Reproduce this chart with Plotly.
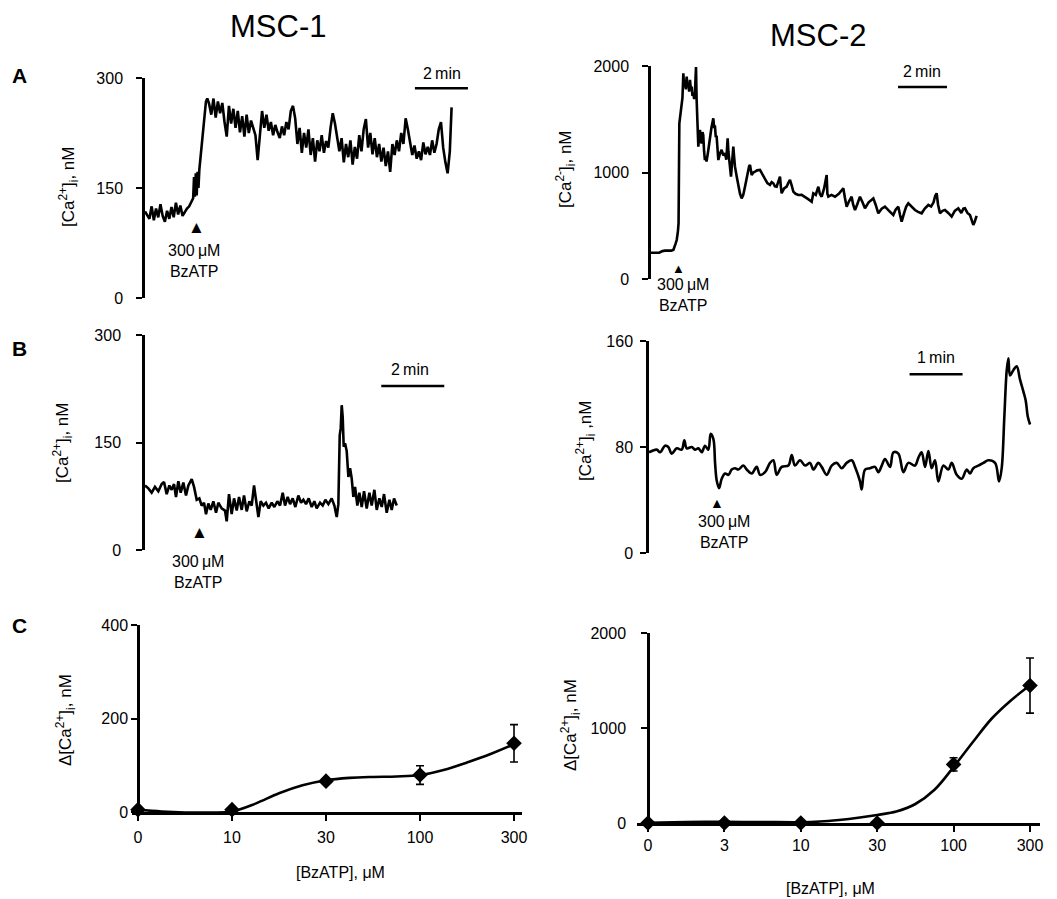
import plotly.graph_objects as go

W, H = 1057, 899
FONT = "Liberation Sans, Arial, sans-serif"

# ---------------- data ----------------
# Panel A, MSC-1: time (s), [Ca2+]i (nM)
a1_trace = [
    (0, 118), (5, 112), (10, 108), (15, 125), (20, 106), (25, 122), (30, 110), (35, 128), (40, 112),
    (45, 104), (50, 119), (55, 108), (60, 124), (65, 110), (70, 130), (75, 114), (80, 126), (85, 112),
    (90, 118), (95, 122), (100, 125), (105, 132), (109, 136), (111, 165), (113, 138), (115, 170),
    (117, 140), (119, 172), (121, 150), (123, 175), (126, 195), (129, 210), (132, 235), (135, 252),
    (138, 268), (141, 272), (145, 265), (150, 250), (155, 272), (160, 246), (165, 268), (170, 252),
    (175, 266), (180, 240), (185, 220), (190, 262), (195, 238), (200, 258), (205, 232), (210, 255),
    (215, 226), (220, 248), (225, 220), (230, 250), (235, 225), (240, 242), (245, 230), (250, 222),
    (255, 188), (260, 228), (265, 255), (270, 232), (275, 250), (280, 228), (285, 240), (290, 222),
    (295, 236), (300, 226), (305, 218), (310, 234), (315, 222), (320, 240), (325, 230), (330, 255),
    (335, 262), (340, 245), (345, 210), (350, 232), (355, 198), (360, 225), (365, 205), (370, 230),
    (375, 195), (380, 218), (385, 186), (390, 215), (395, 200), (400, 222), (405, 198), (410, 214),
    (415, 205), (420, 232), (425, 252), (430, 238), (435, 220), (440, 200), (445, 218), (450, 185),
    (455, 210), (460, 192), (465, 215), (470, 182), (475, 206), (480, 190), (485, 222), (490, 200),
    (495, 230), (500, 244), (505, 205), (510, 225), (515, 196), (520, 218), (525, 192), (530, 210),
    (535, 186), (540, 205), (545, 180), (550, 200), (555, 172), (560, 210), (565, 195), (570, 215),
    (575, 200), (580, 225), (585, 210), (590, 245), (595, 230), (600, 210), (605, 195), (610, 208),
    (615, 190), (620, 200), (625, 188), (630, 212), (635, 196), (640, 206), (645, 195), (650, 215),
    (655, 198), (660, 210), (665, 230), (670, 240), (675, 205), (680, 185), (685, 170), (690, 200),
    (694, 260),
]

# Panel A, MSC-2
a2_trace = [
    (0, 247), (20, 247), (28, 262), (34, 266), (50, 266), (55, 275), (60, 330), (63, 366), (66, 450),
    (67.5, 523), (69.4, 1462), (71, 1509), (73, 1540), (75, 1587), (77, 1700), (79.2, 1931), (81, 1800),
    (83.3, 1869), (85.5, 1780), (87.3, 1900), (89.5, 1800), (91.4, 1837), (93.5, 1760), (95.5, 1870),
    (97.5, 1790), (99.6, 1806), (101.5, 1720), (103.7, 1743), (105.7, 1690), (107.7, 1760),
    (110.2, 1990), (111.8, 1681), (114, 1500), (115.9, 1243), (118, 1350), (120, 1400), (122, 1300),
    (124, 1274), (126, 1380), (128, 1350), (130, 1200), (132, 1117), (134, 1150), (136, 1102),
    (140, 1200), (144.5, 1337), (148, 1420), (152.6, 1509), (154.5, 1430), (156.7, 1431),
    (158.5, 1340), (160.8, 1337), (163, 1200), (164.9, 1117), (169, 1180), (173, 1212), (177, 1160),
    (181.2, 1180), (184.5, 1120), (187.7, 1321), (189.5, 1200), (191, 1117), (193.5, 1050),
    (195.9, 961), (199, 1100), (201.6, 1243), (203.5, 1150), (205.7, 1055), (210, 960), (213.9, 867),
    (218, 800), (222, 757), (226, 790), (230.2, 867), (234, 960), (238.4, 1024), (240.5, 1060),
    (242.5, 1071), (246.5, 977), (250.5, 1000), (254.7, 1008), (260, 1020), (266.9, 1024), (273, 980),
    (279.2, 930), (285, 900), (291.4, 883), (295.5, 910), (299.6, 899), (303.5, 870), (307.7, 867),
    (311.5, 920), (315.9, 961), (318, 870), (320, 805), (326, 850), (332.2, 867), (336, 900),
    (340.4, 930), (344.5, 880), (348.5, 820), (354, 800), (360.8, 789), (369, 790), (377.1, 773),
    (385, 750), (393.5, 726), (397.5, 805), (403.5, 790), (409.8, 867), (413.5, 800), (418, 773),
    (424, 850), (430.2, 977), (432, 800), (434.3, 773), (442, 790), (450.6, 773), (460, 800),
    (471, 852), (475, 760), (479.2, 679), (485, 730), (491.4, 773), (495, 700), (499.6, 648),
    (505, 700), (511.8, 773), (518, 720), (524, 664), (533, 720), (544.5, 757), (550, 700),
    (556.7, 617), (565, 660), (573, 679), (583, 640), (593.4, 601), (599, 650), (605.7, 679),
    (610, 600), (613.9, 539), (620, 620), (625, 680), (630.2, 711), (638, 680), (646.5, 648),
    (654, 630), (662.8, 617), (670, 660), (679.2, 695), (686, 680), (692, 720), (696, 780),
    (699.6, 805), (703, 700), (707.7, 617), (714, 640), (720, 648), (728, 620), (736.3, 586),
    (744, 640), (752.6, 664), (760, 620), (765, 660), (769, 664), (775, 620), (781.2, 601),
    (785, 560), (789.4, 508), (793, 540), (797.5, 592),
]

# Panel B, MSC-1
b1_trace = [
    (0, 90), (6.4, 86), (12.7, 80), (19, 88), (25.4, 82), (31.8, 92), (36.2, 95), (41.3, 78),
    (46.4, 90), (50.8, 84), (55.3, 92), (59, 74), (63.5, 96), (68, 80), (73, 94), (78.1, 76),
    (82.6, 90), (89, 99), (93.4, 88), (98.5, 70), (103.5, 72), (108, 62), (112.4, 66), (116.2, 50),
    (120.7, 65), (125.1, 56), (130.2, 68), (135.3, 52), (139.7, 66), (146, 58), (152.4, 55),
    (155.6, 40), (160, 78), (165.1, 50), (169.6, 72), (174.7, 55), (179.1, 74), (184.2, 56),
    (188.6, 76), (193.7, 54), (198.8, 68), (203.2, 62), (207.7, 90), (211.5, 70), (216, 46),
    (220.4, 68), (225.5, 62), (230.5, 66), (235.6, 58), (241.3, 66), (246.4, 60), (252.1, 68),
    (257.2, 62), (262.3, 80), (266.7, 62), (271.8, 74), (276.3, 64), (281.3, 72), (286.4, 60),
    (292.1, 76), (297.2, 66), (301.7, 70), (306.7, 64), (311.8, 72), (317.5, 60), (322.6, 68),
    (327, 58), (333.4, 66), (338.5, 62), (343.6, 70), (349.3, 64), (355.6, 72), (360.7, 62),
    (365.2, 46), (368.3, 64), (370.9, 160), (372.8, 170), (374.7, 202), (376.6, 185), (378.5, 144),
    (381, 149), (384.2, 138), (387.4, 102), (390.6, 114), (393.7, 100), (396.9, 74), (400.1, 88),
    (404.5, 62), (408.3, 80), (412.8, 60), (417.2, 82), (422.3, 58), (427.4, 80), (431.8, 62),
    (436.9, 84), (441.4, 56), (446.4, 72), (450.9, 60), (455.3, 78), (460.4, 52), (465.5, 70),
    (469.9, 56), (474.4, 72), (479.5, 62),
]

# Panel B, MSC-2
b2_trace = [
    (0, 76), (8.7, 78), (12.5, 76), (18.1, 81), (21.9, 80), (25.7, 75), (31.4, 79), (37, 78),
    (40, 85), (42.7, 79), (48.3, 80), (52.1, 78), (55.9, 79), (59.7, 76), (63.4, 81), (67.2, 78),
    (69.8, 90), (72.9, 86), (74.8, 68), (76.6, 55), (79.3, 49), (82.3, 56), (86.1, 60), (89.9, 59),
    (93.6, 63), (97.4, 64), (101.2, 63), (106.8, 66), (110.6, 63), (116.3, 60), (121.9, 65),
    (125.7, 59), (131.4, 61), (137, 68), (140.8, 70), (144.6, 59), (150.2, 65), (157.8, 66),
    (161.6, 74), (165.3, 66), (171, 70), (176.7, 66), (182.3, 68), (186.1, 63), (191.7, 68),
    (195.5, 65), (201.2, 59), (206.8, 66), (212.5, 68), (218.2, 64), (223.8, 68), (229.5, 70),
    (233.3, 65), (238.9, 54), (240.8, 48), (244.6, 63), (250.2, 64), (255.9, 65), (259.7, 61),
    (263.5, 66), (267.2, 71), (272.9, 65), (276.7, 76), (282.3, 75), (288, 61), (293.6, 68),
    (301.2, 66), (305, 72), (308.7, 76), (312.5, 65), (316.3, 77), (320, 64), (323.8, 70),
    (327.6, 54), (333.3, 66), (338.9, 63), (342.7, 68), (348.4, 59), (354, 56), (359.7, 63),
    (363.5, 60), (367.2, 64), (372.9, 66), (378.6, 68), (384.2, 70), (391.8, 68), (396.3, 54),
    (399.3, 64), (402.3, 103), (405, 138), (406.9, 147), (408.7, 134), (412.5, 138), (416.3, 141),
    (420, 131), (423.8, 122), (426.5, 115), (428.8, 103), (431.4, 97),
]

# Panel C, dose-response
c1_conc = ["0", "10", "30", "100", "300"]
c1_mean = [5, 5, 66, 79, 147]
c1_sem = [0, 0, 0, 20, 40]
c1_fit_pos = [0, 0.25, 0.5, 0.75, 1, 1.25, 1.5, 1.75, 2, 2.25, 2.5, 2.75, 3, 3.25, 3.5, 3.75, 4]
c1_fit_val = [5, 1, -1, -1, 1, 18, 40, 57, 68, 73, 75, 76, 79, 90, 106, 124, 145]

c2_conc = ["0", "3", "10", "30", "100", "300"]
c2_mean = [0, 0, 0, 0, 617, 1447]
c2_sem = [0, 0, 0, 0, 70, 290]
c2_fit_pos = [0, 0.5, 1, 1.5, 2, 2.25, 2.5, 2.75, 3, 3.25, 3.5, 3.75, 4, 4.25, 4.5, 4.75, 5]
c2_fit_val = [3, 10, 12, 10, 8, 15, 32, 55, 85, 120, 200, 350, 590, 850, 1100, 1290, 1450]

a_ticks_1 = [0, 150, 300]
a_ticks_2 = [0, 1000, 2000]
b_ticks_1 = [0, 150, 300]
b_ticks_2 = [0, 80, 160]
c_ticks_1 = [0, 200, 400]
c_ticks_2 = [0, 1000, 2000]

# ---------------- figure ----------------
fig = go.Figure()


def px_x(p):
    return p / W


def px_y(p):
    return 1 - p / H


def add_line(trace, xa, ya, shape="linear"):
    t, v = zip(*trace)
    fig.add_trace(go.Scatter(x=list(t), y=list(v), mode="lines",
                             line=dict(color="black", width=2.6, shape=shape),
                             xaxis=xa, yaxis=ya, showlegend=False, hoverinfo="skip",
                             cliponaxis=False))


add_line(a1_trace, "x", "y")
add_line(a2_trace, "x2", "y2")
add_line(b1_trace, "x3", "y3")
add_line(b2_trace, "x4", "y4", shape="spline")

for labels, mean, sem, fpos, fval, xa, ya in [
    (c1_conc, c1_mean, c1_sem, c1_fit_pos, c1_fit_val, "x5", "y5"),
    (c2_conc, c2_mean, c2_sem, c2_fit_pos, c2_fit_val, "x6", "y6"),
]:
    fig.add_trace(go.Scatter(x=fpos, y=fval, mode="lines",
                             line=dict(color="black", width=2.6, shape="spline", smoothing=1.0),
                             xaxis=xa, yaxis=ya, showlegend=False, hoverinfo="skip",
                             cliponaxis=False))
    fig.add_trace(go.Scatter(x=list(range(len(labels))), y=mean, mode="markers",
                             marker=dict(symbol="diamond", size=12, color="black"),
                             error_y=dict(type="data", array=sem, color="black",
                                          thickness=1.6, width=4, visible=True),
                             xaxis=xa, yaxis=ya, showlegend=False, hoverinfo="skip",
                             cliponaxis=False))


def yax(dom_px, rng, tickvals, anchor, standoff, **kw):
    d = dict(domain=[px_y(dom_px[0]), px_y(dom_px[1])], range=rng, tickvals=tickvals,
             showline=True, linecolor="black", linewidth=2.5, ticks="outside", ticklen=6,
             tickwidth=2, tickcolor="black", showgrid=False, zeroline=False, anchor=anchor,
             tickfont=dict(size=16, color="black", family=FONT), fixedrange=True,
             automargin=False, ticklabelstandoff=standoff)
    d.update(kw)
    return d


def xhidden(dom_px, rng, anchor):
    return dict(domain=[px_x(dom_px[0]), px_x(dom_px[1])], range=rng, visible=False,
                anchor=anchor, fixedrange=True, automargin=False)


def xcat(dom_px, rng, labels, anchor, standoff):
    return dict(domain=[px_x(dom_px[0]), px_x(dom_px[1])], range=rng,
                tickvals=list(range(len(labels))), ticktext=labels,
                showline=True, linecolor="black", linewidth=2.5, ticks="outside", ticklen=6,
                tickwidth=2, tickcolor="black", showgrid=False, zeroline=False, anchor=anchor,
                tickfont=dict(size=16, color="black", family=FONT), fixedrange=True,
                automargin=False, ticklabelstandoff=standoff)


fig.update_layout(
    template="none",
    width=W, height=H, margin=dict(l=0, r=0, t=0, b=0, pad=0, autoexpand=False),
    paper_bgcolor="white", plot_bgcolor="rgba(0,0,0,0)",
    font=dict(family=FONT, color="black"),
    showlegend=False,
    xaxis=xhidden((145, 475), [0, 747], "y"),
    yaxis=yax((298, 78), [0, 300], a_ticks_1, "x", 10),
    xaxis2=xhidden((651, 985), [0, 818], "y2"),
    yaxis2=yax((279, 66), [0, 2000], a_ticks_2, "x2", 10),
    xaxis3=xhidden((145, 460), [0, 600], "y3"),
    yaxis3=yax((550, 335), [0, 300], b_ticks_1, "x3", 12),
    xaxis4=xhidden((649, 1035), [0, 437], "y4"),
    yaxis4=yax((553, 341), [0, 160], b_ticks_2, "x4", 4),
    xaxis5=xcat((132, 522), [-0.064, 4.085], c1_conc, "y5", 3),
    yaxis5=yax((812, 625), [0, 400], c_ticks_1, "free", 0, position=px_x(138)),
    xaxis6=xcat((637, 1040), [-0.144, 5.131], c2_conc, "y6", 0),
    yaxis6=yax((823, 633), [0, 2000], c_ticks_2, "free", 12, position=px_x(648)),
)

# scale bars (data coordinates, 2 min = 120 s, 1 min = 60 s)
for xr, yr, t0, dur, val in [("x", "y", 611, 120, 286), ("x2", "y2", 605, 120, 1803),
                             ("x3", "y3", 450, 120, 229), ("x4", "y4", 295, 60, 135)]:
    fig.add_shape(type="line", xref=xr, yref=yr, x0=t0, x1=t0 + dur, y0=val, y1=val,
                  line=dict(color="black", width=2.5))


def ann(text, px, py, size=16, **kw):
    fig.add_annotation(text=text, x=px_x(px), y=px_y(py), xref="paper", yref="paper",
                       showarrow=False, xanchor="center", yanchor="middle",
                       font=dict(size=size, color="black", family=FONT), **kw)


ann("MSC-1", 278, 27, size=31)
ann("MSC-2", 818, 35, size=31)
ann("<b>A</b>", 19, 75, size=21)
ann("<b>B</b>", 19, 348, size=21)
ann("<b>C</b>", 19, 625, size=21)

ann("[Ca<sup>2+</sup>]<sub>i</sub>, nM", 68, 187, size=17, textangle=-90)
ann("[Ca<sup>2-</sup>]<sub>i</sub>, nM", 565, 169, size=17, textangle=-90)
ann("[Ca<sup>2+</sup>]<sub>i</sub>, nM", 63, 443, size=17, textangle=-90)
ann("[Ca<sup>2+</sup>]<sub>i</sub> ,nM", 585, 441, size=17, textangle=-90)
ann("Δ[Ca<sup>2+</sup>]<sub>i</sub>, nM", 65, 720, size=17, textangle=-90)
ann("Δ[Ca<sup>2+</sup>]<sub>i</sub>, nM", 570, 725, size=17, textangle=-90)

ann("[BzATP], μM", 340, 872, size=16)
ann("[BzATP], μM", 830, 888, size=16)

ann("2\u2009min", 442, 73, size=16)
ann("2\u2009min", 922, 71, size=16)
ann("2\u2009min", 410, 369, size=16)
ann("1\u2009min", 936, 357, size=16)

ann("▲", 196, 227, size=17)
ann("▲", 678, 268, size=13)
ann("▲", 199, 532, size=17)
ann("▲", 717, 503, size=14)

ann("300\u2009μM<br>BzATP", 194, 261, size=16)
ann("300\u2009μM<br>BzATP", 683, 295, size=16)
ann("300\u2009μM<br>BzATP", 198, 572, size=16)
ann("300\u2009μM<br>BzATP", 724, 532, size=16)

fig.write_html(
    "out.html",
    config={"displayModeBar": False},
    post_script="document.body.style.margin='0px';document.body.style.overflow='hidden';",
)
